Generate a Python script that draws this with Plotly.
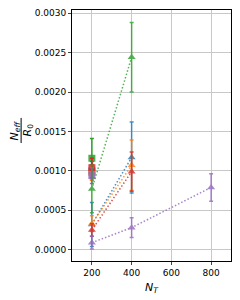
import plotly.graph_objects as go

colors = ["#1f77b4", "#ff7f0e", "#2ca02c", "#d62728", "#9467bd"]

# Square markers (single point at N_T = 200)
sq_x = [200]
sq_vals = [[0.00100], [0.00098], [0.00116], [0.00104], [0.00094]]
sq_errs = [[0.00012], [0.00010], [0.00025], [0.00012], [0.00010]]

# Triangle series (connected by dotted lines)
tri_x = [[200, 400], [200, 400], [200, 400], [200, 400], [200, 400, 800]]
tri_vals = [
    [0.00032, 0.00117],
    [0.00033, 0.00107],
    [0.00077, 0.00244],
    [0.00025, 0.00099],
    [0.00009, 0.00028, 0.00079],
]
tri_errs = [
    [0.00028, 0.00045],
    [0.00010, 0.00032],
    [0.00030, 0.00044],
    [0.00008, 0.00025],
    [0.00008, 0.000125, 0.000175],
]

x_ticks = [200, 400, 600, 800]
y_ticks = [0.0, 0.0005, 0.0010, 0.0015, 0.0020, 0.0025, 0.0030]

fig = go.Figure()
for i, c in enumerate(colors):
    fig.add_trace(go.Scatter(
        x=sq_x * len(sq_vals[i]), y=sq_vals[i], mode="markers",
        marker=dict(symbol="square", size=7, color=c, opacity=0.85),
        error_y=dict(type="data", array=sq_errs[i], color=c, thickness=1.5, width=2),
        showlegend=False))
for i, c in enumerate(colors):
    fig.add_trace(go.Scatter(
        x=tri_x[i], y=tri_vals[i], mode="lines+markers",
        line=dict(color=c, width=1.5, dash="1.5px,2px"),
        marker=dict(symbol="triangle-up", size=7, color=c),
        opacity=0.8,
        error_y=dict(type="data", array=tri_errs[i], color=c, thickness=1.5, width=2),
        showlegend=False))

font = dict(family="DejaVu Sans", size=9, color="black")
fig.update_layout(
    width=232, height=292,
    margin=dict(l=64, r=9, t=2, b=39),
    paper_bgcolor="white", plot_bgcolor="white",
    font=font,
    xaxis=dict(range=[100, 900], tickvals=x_ticks, ticks="outside", ticklen=3,
               showline=True, linecolor="black", linewidth=1, mirror=True,
               showgrid=True, gridcolor="#c8c8c8", gridwidth=1, zeroline=False,
               automargin=False),
    yaxis=dict(range=[-0.000143, 0.00304], tickvals=y_ticks, tickformat=".4f",
               ticks="outside", ticklen=3, automargin=False,
               showline=True, linecolor="black", linewidth=1, mirror=True,
               showgrid=True, gridcolor="#c8c8c8", gridwidth=1, zeroline=False),
)

# x-axis label
fig.add_annotation(xref="paper", yref="paper", x=0.5, y=0, yshift=-27,
                   text="<i>N<sub>T</sub></i>", showarrow=False,
                   font=dict(size=11), xanchor="center", yanchor="middle")

# y-axis label drawn as a stacked fraction
fig.add_annotation(xref="paper", yref="paper", x=0, y=0.52, xshift=-57,
                   text="<i>N<sub>eff</sub></i>", textangle=-90, showarrow=False,
                   font=dict(size=11), xanchor="center", yanchor="middle")
fig.add_annotation(xref="paper", yref="paper", x=0, y=0.52, xshift=-44,
                   text="<i>R</i><sub>0</sub>", textangle=-90, showarrow=False,
                   font=dict(size=11), xanchor="center", yanchor="middle")
fig.add_shape(type="line", xref="paper", yref="paper",
              x0=-0.32, x1=-0.32, y0=0.47, y1=0.57,
              line=dict(color="black", width=1))

fig.write_html("out.html")
